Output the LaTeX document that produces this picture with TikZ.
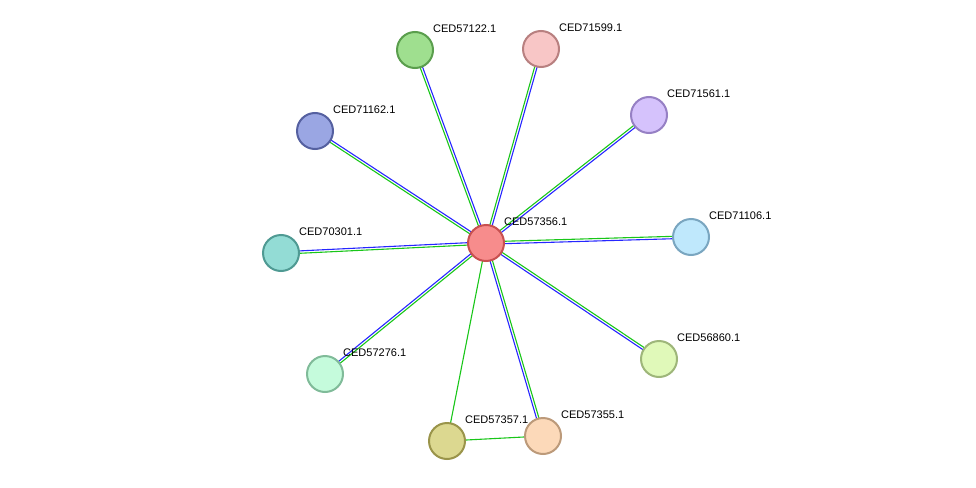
\documentclass[tikz,border=0pt]{standalone}
\usepackage{fontspec}
\setmainfont{Liberation Sans}
\usetikzlibrary{calc}
\pgfdeclarelayer{bg}\pgfsetlayers{bg,main}
\begin{document}
\begin{tikzpicture}[x=1pt,y=-1pt,
  prot/.style={circle,minimum size=36pt,inner sep=0pt,line width=2pt},
  lab/.style={anchor=west,font=\fontsize{11pt}{12pt}\selectfont,inner sep=0pt},
  eg/.style={draw=green!75!black!90,line width=1.1pt},
  eb/.style={draw=blue!85!white,line width=1.1pt}]
\useasboundingbox (0,0) rectangle (976,487);
\def\P#1#2#3#4#5{\definecolor{f#1}{HTML}{#4}\definecolor{s#1}{HTML}{#5}
  \node[prot,fill=f#1,draw=s#1] (n#1) at (#2,#3) {};
  \node[lab] (l#1) at (#2+18,#3-21) {CED#1.1};}
\P{57356}{486}{243}{F78C8C}{C85050}
\P{57122}{415}{50}{9FDF8F}{5A9E4D}
\P{71599}{541}{49}{F8C6C6}{B88080}
\P{71561}{649}{115}{D5C2FC}{9680C4}
\P{71162}{315}{131}{9AA6E3}{5560A0}
\P{71106}{691}{237}{BFE8FC}{7AA6C0}
\P{70301}{281}{253}{93DCD5}{4F9A93}
\P{56860}{659}{359}{E0F9B9}{9EB67A}
\P{57276}{325}{374}{C5FBDC}{80BB99}
\P{57357}{447}{441}{DCD890}{9A944A}
\P{57355}{543}{436}{FCD9B9}{BC9A7A}
\begin{pgfonlayer}{bg}
\foreach \t in {57122,71599,71561,71162,71106,70301,56860,57276,57355}{
  \draw[eg] ($(n57356.center)!1.2pt!90:(n\t.center)$) -- ($(n\t.center)!1.2pt!-90:(n57356.center)$);
  \draw[eb] ($(n57356.center)!1.2pt!-90:(n\t.center)$) -- ($(n\t.center)!1.2pt!90:(n57356.center)$);
}
\draw[eg] (n57356.center) -- (n57357.center);
\draw[eg] (n57357.center) -- (n57355.center);
\end{pgfonlayer}
\end{tikzpicture}
\end{document}
